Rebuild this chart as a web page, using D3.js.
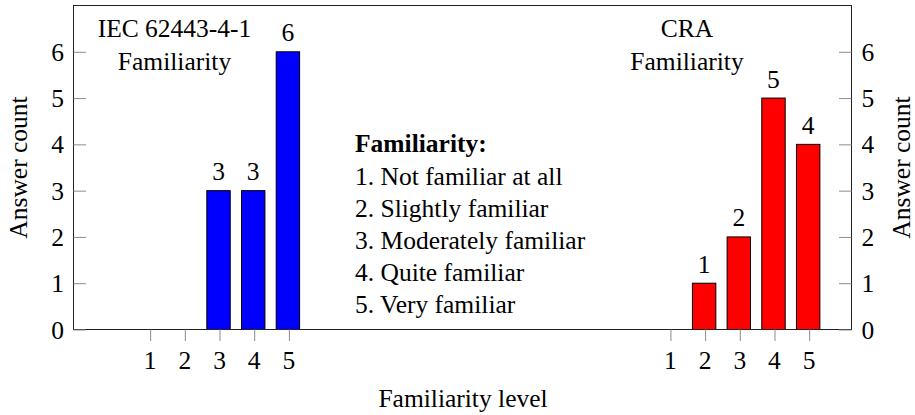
<!DOCTYPE html>
<html>
<head>
<meta charset="utf-8">
<script src="https://cdn.jsdelivr.net/npm/d3@7"></script>
<style>
  html, body { margin: 0; padding: 0; background: #fff; }
  svg text { font-family: "Liberation Serif", "Times New Roman", serif; fill: #000; }
</style>
</head>
<body>
<svg id="chart" width="915" height="415"></svg>
<script>
// ---- data ----
const levels = [1, 2, 3, 4, 5];
const iecCounts = [0, 0, 3, 3, 6];
const craCounts = [0, 1, 2, 5, 4];
const groupOffsets = [0, 15];          // x-position shift of each group, in level units
const groupColors = ["#0000ff", "#ff0000"];
const groupTitles = [["IEC 62443-4-1", "Familiarity"], ["CRA", "Familiarity"]];
const yTicks = [0, 1, 2, 3, 4, 5, 6];
const legendTitle = "Familiarity:";
const legendItems = ["1. Not familiar at all", "2. Slightly familiar", "3. Moderately familiar", "4. Quite familiar", "5. Very familiar"];
const yLabel = "Answer count";
const xLabel = "Familiarity level";

// ---- layout ----
const svg = d3.select("#chart");
const mLeft = 73.5, mRight = 851.5, mTop = 5.5, mBottom = 329.5;
const FS = 25.5;

const x = d3.scaleLinear().domain([-1.21, 21.22]).range([mLeft, mRight]);
const y = d3.scaleLinear().domain([0, 7]).range([mBottom, mTop]);
const barW = x(0.675) - x(0);

const groups = [iecCounts, craCounts].map((counts, g) =>
  levels.map((l, i) => ({ level: l, value: counts[i], pos: l + groupOffsets[g], g })));
const allBars = groups.flat();

// bars
svg.append("g").selectAll("rect")
  .data(allBars.filter(d => d.value > 0))
  .join("rect")
  .attr("x", d => x(d.pos) - barW / 2 - 1)
  .attr("width", barW)
  .attr("y", d => y(d.value))
  .attr("height", d => y(0) - y(d.value))
  .attr("fill", d => groupColors[d.g])
  .attr("stroke", "#000")
  .attr("stroke-width", 1);

// bar value labels
svg.append("g").selectAll("text")
  .data(allBars.filter(d => d.value > 0))
  .join("text")
  .attr("x", d => x(d.pos) - 1)
  .attr("y", d => y(d.value) - 10.5)
  .attr("text-anchor", "middle")
  .attr("font-size", FS)
  .text(d => d.value);

// frame
svg.append("rect")
  .attr("x", mLeft).attr("y", mTop)
  .attr("width", mRight - mLeft).attr("height", mBottom - mTop)
  .attr("fill", "none").attr("stroke", "#222").attr("stroke-width", 1);

// left y axis (inward ticks)
const yAxisL = d3.axisRight(y).tickValues(yTicks).tickSize(12.5).tickFormat("");
const gL = svg.append("g").attr("transform", `translate(${mLeft},0)`).call(yAxisL);
gL.select(".domain").remove();
gL.selectAll(".tick line").attr("stroke", "#8c8c8c");
svg.append("g").selectAll("text").data(yTicks).join("text")
  .attr("x", mLeft - 9.5).attr("y", d => y(d) + 9)
  .attr("text-anchor", "end").attr("font-size", FS).text(d => d);

// right y axis (inward ticks)
const yAxisR = d3.axisLeft(y).tickValues(yTicks).tickSize(12.5).tickFormat("");
const gR = svg.append("g").attr("transform", `translate(${mRight},0)`).call(yAxisR);
gR.select(".domain").remove();
gR.selectAll(".tick line").attr("stroke", "#8c8c8c");
svg.append("g").selectAll("text").data(yTicks).join("text")
  .attr("x", mRight + 10).attr("y", d => y(d) + 9)
  .attr("text-anchor", "start").attr("font-size", FS).text(d => d);

// x axis (outward ticks)
const xTickPos = allBars.map(d => d.pos);
const xAxis = d3.axisBottom(x).tickValues(xTickPos).tickSize(11.5).tickFormat("");
const gX = svg.append("g").attr("transform", `translate(0,${mBottom})`).call(xAxis);
gX.select(".domain").remove();
gX.selectAll(".tick line").attr("stroke", "#8c8c8c");
svg.append("g").selectAll("text").data(allBars).join("text")
  .attr("x", d => x(d.pos)).attr("y", 369)
  .attr("text-anchor", "middle").attr("font-size", FS).text(d => d.level);

// axis titles
svg.append("text")
  .attr("transform", `translate(${(mLeft + mRight) / 2 + 0.5},407)`)
  .attr("text-anchor", "middle").attr("font-size", FS).text(xLabel);
svg.append("text")
  .attr("transform", `translate(27,${(mTop + mBottom) / 2}) rotate(-90)`)
  .attr("text-anchor", "middle").attr("font-size", FS).text(yLabel);
svg.append("text")
  .attr("transform", `translate(909.5,${(mTop + mBottom) / 2}) rotate(-90)`)
  .attr("text-anchor", "middle").attr("font-size", FS).text(yLabel);

// group titles
const titleX = [174.5, 687];
groupTitles.forEach((lines, g) => {
  svg.append("g").selectAll("text").data(lines).join("text")
    .attr("x", titleX[g]).attr("y", (d, i) => 37 + i * 33)
    .attr("text-anchor", "middle").attr("font-size", FS).text(d => d);
});

// legend text
const lg = svg.append("g");
lg.append("text").attr("x", 355).attr("y", 152)
  .attr("font-size", FS).attr("font-weight", "bold").text(legendTitle);
lg.selectAll("text.item").data(legendItems).join("text")
  .attr("class", "item")
  .attr("x", 355).attr("y", (d, i) => 184.5 + i * 32)
  .attr("font-size", FS).text(d => d);
</script>
</body>
</html>
